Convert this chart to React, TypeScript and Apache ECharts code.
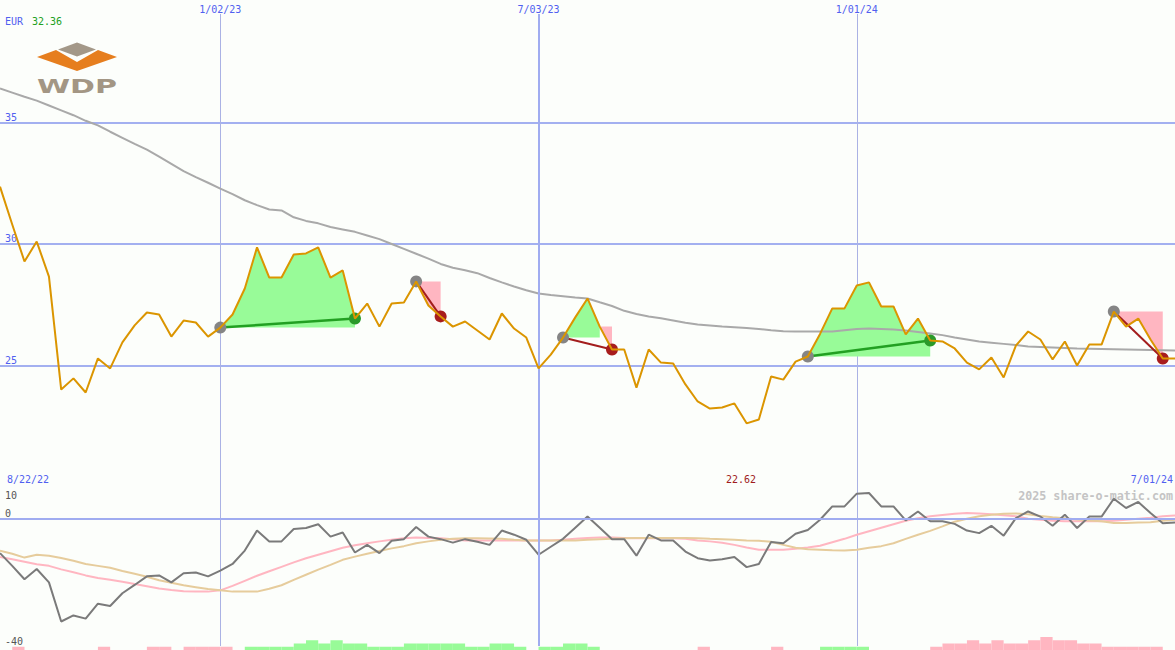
import React, { useEffect, useRef } from "react";
import * as echarts from "echarts";

// Weekly closing price (EUR), first week 8/29/22
const price = [
  32.36, 30.8, 29.28, 30.1, 28.66, 24.01, 24.47, 23.89, 25.29, 24.88,
  25.95, 26.65, 27.18, 27.1, 26.19, 26.85, 26.77, 26.19, 26.56, 27.1,
  28.17, 29.86, 28.62, 28.62, 29.57, 29.61, 29.86, 28.62, 28.91, 26.93,
  27.55, 26.6, 27.55, 27.59, 28.46, 27.47, 27.02, 26.6, 26.81, 26.44,
  26.07, 27.14, 26.52, 26.15, 24.88, 25.45, 26.15, 26.98, 27.76, 26.6,
  25.66, 25.66, 24.09, 25.66, 25.12, 25.08, 24.22, 23.52, 23.23, 23.27,
  23.44, 22.62, 22.78, 24.55, 24.42, 25.16, 25.37, 26.3, 27.35, 27.35,
  28.29, 28.42, 27.43, 27.43, 26.28, 26.93, 26.03, 25.99, 25.7, 25.12,
  24.84, 25.33, 24.51, 25.82, 26.4, 26.07, 25.25, 25.99, 25.0, 25.86,
  25.86, 27.22, 26.6, 26.93, 26.07, 25.29, 25.29,
];

// Moving average (grey)
const movingAvg = [
  36.4, 36.23, 36.06, 35.9, 35.7, 35.5, 35.3, 35.07, 34.88, 34.62,
  34.37, 34.12, 33.88, 33.6, 33.3, 33.0, 32.75, 32.52, 32.28, 32.05,
  31.8, 31.6, 31.42, 31.38, 31.1, 30.95, 30.85, 30.7, 30.6, 30.5,
  30.35, 30.2, 30.0, 29.8, 29.6, 29.4, 29.18, 29.02, 28.92, 28.8,
  28.6, 28.42, 28.25, 28.1, 27.96, 27.9, 27.85, 27.8, 27.76, 27.6,
  27.45, 27.25, 27.12, 27.02, 26.94, 26.85, 26.76, 26.69, 26.65, 26.6,
  26.57, 26.54, 26.5, 26.45, 26.41, 26.4, 26.4, 26.4, 26.4, 26.45,
  26.5, 26.52, 26.5, 26.48, 26.44, 26.38, 26.32, 26.25, 26.15, 26.07,
  25.99, 25.94, 25.89, 25.84, 25.78, 25.76, 25.74, 25.72, 25.7, 25.69,
  25.68, 25.67, 25.66, 25.65, 25.64, 25.63, 25.62,
];

// Trades: entry / exit week indexes
const tradeEntry = [18, 34, 46, 66, 91];
const tradeExit = [29, 36, 50, 76, 95];

// Lower panel oscillator (dark grey), signal (pink), slow line (tan)
const momentum = [
  -10.8, -14.8, -19.0, -15.8, -20.0, -32.3, -30.4, -31.4, -26.7, -27.4,
  -23.4, -20.8, -18.1, -17.8, -20.0, -17.1, -16.9, -18.1, -16.3, -14.2,
  -10.0, -3.7, -7.1, -7.1, -3.2, -2.9, -1.7, -5.6, -4.3, -10.6,
  -8.2, -10.8, -6.9, -6.4, -2.6, -5.6, -6.4, -7.5, -6.4, -7.2,
  -8.2, -3.7, -5.0, -6.6, -11.3, -8.8, -6.3, -2.8, 0.7, -2.8,
  -6.4, -6.4, -11.6, -5.0, -6.8, -6.8, -10.3, -12.4, -13.1, -12.7,
  -12.0, -15.2, -14.2, -7.3, -7.7, -4.7, -3.5, -0.3, 3.9, 3.9,
  7.9, 8.1, 3.9, 3.9, -0.5, 2.3, -0.8, -0.8, -1.6, -3.7,
  -4.5, -2.2, -5.3, 0.2, 2.3, 0.7, -2.2, 1.3, -2.9, 0.7,
  0.7, 6.3, 3.4, 5.3, 1.8, -1.4, -1.2,
];
const signal = [
  -12.0, -12.7, -13.5, -14.3, -14.8, -15.9, -16.8, -17.8, -18.6, -19.2,
  -19.8, -20.5, -21.2, -21.9, -22.4, -22.8, -22.9, -22.9, -22.5, -21.1,
  -19.5, -17.9, -16.5, -15.1, -13.7, -12.4, -11.3, -10.2, -9.1, -8.3,
  -7.7, -7.1, -6.6, -6.1, -5.9, -6.0, -6.1, -6.4, -6.8, -6.8,
  -6.8, -6.8, -6.8, -6.8, -6.8, -6.8, -6.6, -6.3, -6.0, -5.9,
  -5.9, -6.0, -6.1, -6.1, -6.1, -6.1, -6.3, -6.8, -7.1, -7.5,
  -8.2, -9.0, -9.7, -9.7, -9.7, -9.4, -9.0, -8.5, -7.4, -6.3,
  -5.0, -3.9, -2.8, -1.7, -0.6, 0.2, 0.8, 1.2, 1.6, 1.8,
  1.7, 1.4, 1.1, 0.8, 0.0, -0.3, -0.6, -0.8, -0.8, -0.8,
  -0.8, -0.6, -0.3, 0.0, 0.3, 0.8, 1.0,
];
const slowLine = [
  -10.0, -11.0, -12.2, -11.3, -11.6, -12.3, -13.2, -14.2, -14.8, -15.4,
  -16.4, -17.3, -18.2, -19.3, -20.1, -20.9, -21.5, -22.1, -22.5, -22.9,
  -22.9, -22.9, -22.0, -20.9, -19.2, -17.6, -16.0, -14.5, -12.9, -11.9,
  -11.0, -10.1, -9.3, -8.6, -7.7, -7.1, -6.6, -6.3, -6.1, -6.1,
  -6.2, -6.3, -6.6, -6.8, -6.8, -6.8, -6.8, -6.8, -6.6, -6.4,
  -6.3, -6.1, -6.0, -6.0, -6.0, -6.0, -6.0, -6.1, -6.3, -6.4,
  -6.6, -6.8, -6.9, -7.2, -8.2, -9.1, -9.6, -9.7, -9.9, -10.0,
  -9.7, -9.1, -8.6, -7.7, -6.3, -5.0, -3.8, -2.4, -0.9, 0.0,
  0.8, 1.3, 1.6, 1.7, 1.4, 0.9, 0.5, 0.2, -0.2, -0.5,
  -0.8, -1.3, -1.3, -1.2, -1.1, -0.6, -0.3,
];

// Bottom histogram (positive = green, negative = pink), one bar per week interval
const histogram = [
  0, -1, 0, 0, 0, 0, 0, 0, -1, 0,
  0, 0, -1, -1, 0, -1, -1, -1, -1, 0,
  1, 1, 1, 1, 2, 3, 2, 3, 2, 2,
  1, 1, 1, 2, 2, 2, 2, 2, 1, 1,
  2, 2, 1, 0, 1, 1, 2, 2, 1, 0,
  0, 0, 0, 0, 0, 0, 0, -1, 0, 0,
  0, 0, 0, -1, 0, 0, 0, 1, 1, 1,
  1, 0, 0, 0, 0, 0, -1, -2, -2, -3,
  -2, -3, -2, -2, -3, -4, -3, -3, -2, -2,
  -1, -1, -1, -1, -1, 0,
];

const markedDates = ["1/02/23", "7/03/23", "1/01/24"];
const midYearDate = "7/03/23";
const currency = "EUR";
const startLabel = "8/22/22";
const endLabel = "7/01/24";
const watermark = "2025 share-o-matic.com";

const mono = '"DejaVu Sans Mono", monospace';
const BLUE_TXT = "#5060f0";
const GRID_BLUE = "#a3b0f0";
const THIN_V = "#aab2e4";
const SEP = "#7b8be8";
const GREEN_FILL = "#98fb98";
const PINK_FILL = "#ffb6c1";

const start = Date.UTC(2022, 7, 29);
const dates = price.map((_, i) => {
  const d = new Date(start + i * 7 * 86400000);
  return `${d.getUTCMonth() + 1}/${String(d.getUTCDate()).padStart(2, "0")}/${String(
    d.getUTCFullYear() % 100
  ).padStart(2, "0")}`;
});
const histCats = histogram.map((_, i) => String(i));

const isMarked = (_idx: number, val: string) => markedDates.includes(val);

function tradeInfo(k: number) {
  const e = tradeEntry[k];
  const x = tradeExit[k];
  const base = price[e];
  const win = price[x] >= base;
  let gEnd = x;
  if (!win) {
    gEnd = e;
    for (let i = e; i <= x; i++) if (price[i] >= base) gEnd = i;
  }
  return { e, x, base, win, gEnd };
}

export default function App() {
  const ref = useRef<HTMLDivElement>(null);

  useEffect(() => {
    if (!ref.current) return;
    const chart = echarts.init(ref.current, null, { renderer: "svg" });
    const maxP = Math.max(...price).toFixed(2);
    const minP = Math.min(...price).toFixed(2);

    const option: any = {
      animation: false,
      backgroundColor: "#fcfefb",
      grid: [
        { left: 0, right: 0, top: 14, height: 473 },
        { left: 0, right: 0, top: 487, height: 159 },
        { left: 0, right: 0, top: 637, height: 13 },
      ],
      xAxis: [
        {
          type: "category",
          gridIndex: 0,
          data: dates,
          boundaryGap: false,
          position: "top",
          axisLine: { show: false },
          axisTick: { show: false },
          axisLabel: {
            interval: isMarked,
            color: BLUE_TXT,
            fontFamily: mono,
            fontSize: 10,
            margin: 0,
          },
          splitLine: {
            show: true,
            interval: isMarked,
            lineStyle: { color: THIN_V, width: 1 },
          },
        },
        {
          type: "category",
          gridIndex: 1,
          data: dates,
          boundaryGap: false,
          position: "top",
          axisLine: { show: true, lineStyle: { color: SEP, width: 2 } },
          axisTick: { show: false },
          axisLabel: { show: false },
          splitLine: {
            show: true,
            interval: isMarked,
            lineStyle: { color: THIN_V, width: 1 },
          },
        },
        {
          type: "category",
          gridIndex: 2,
          data: histCats,
          boundaryGap: true,
          show: false,
        },
      ],
      yAxis: [
        {
          type: "value",
          gridIndex: 0,
          min: 20,
          max: 39.465,
          interval: 5,
          axisLine: { show: false },
          axisTick: { show: false },
          axisLabel: {
            inside: true,
            showMinLabel: false,
            showMaxLabel: false,
            verticalAlign: "bottom",
            color: BLUE_TXT,
            fontFamily: mono,
            fontSize: 10,
            margin: 5,
          },
          splitLine: {
            show: true,
            showMinLine: false,
            showMaxLine: false,
            lineStyle: { color: GRID_BLUE, width: 2 },
          },
        },
        {
          type: "value",
          gridIndex: 1,
          position: "left",
          min: -40,
          max: 10,
          interval: 10,
          axisLine: { show: false },
          axisTick: { show: false },
          splitLine: { show: false },
          axisLabel: {
            inside: true,
            showMinLabel: true,
            formatter: (v: number) => (v === 0 || v === -40 ? String(v) : ""),
            verticalAlign: "bottom",
            color: "#555555",
            fontFamily: mono,
            fontSize: 10,
            margin: 5,
          },
        },
        {
          type: "value",
          gridIndex: 1,
          position: "left",
          min: -40,
          max: 10,
          interval: 10,
          axisLine: { show: false },
          axisTick: { show: false },
          splitLine: { show: false },
          axisLabel: {
            inside: true,
            showMaxLabel: true,
            formatter: (v: number) => (v === 10 ? String(v) : ""),
            verticalAlign: "top",
            padding: [3, 0, 0, 0],
            color: "#555555",
            fontFamily: mono,
            fontSize: 10,
            margin: 5,
          },
        },
        {
          type: "value",
          gridIndex: 2,
          min: 0,
          max: 4,
          show: false,
        },
      ],
      graphic: [
        {
          type: "text",
          x: 5,
          y: 21,
          style: { text: currency, fill: BLUE_TXT, font: `10px ${mono}`, verticalAlign: "middle" },
        },
        {
          type: "text",
          x: 32,
          y: 21,
          style: { text: maxP, fill: "#22a022", font: `10px ${mono}`, verticalAlign: "middle" },
        },
        {
          type: "polygon",
          shape: { points: [[37, 57], [56, 50], [77, 62], [98, 50], [117, 57], [77, 71]] },
          style: { fill: "#e67e1e" },
        },
        {
          type: "polygon",
          shape: { points: [[58, 49.5], [77, 42.5], [96, 49.5], [77, 56.5]] },
          style: { fill: "#a39888" },
        },
        {
          type: "text",
          x: 77,
          y: 86,
          scaleX: 1.5,
          style: {
            text: "WDP",
            fill: "#a39684",
            font: 'bold 20px "DejaVu Sans", sans-serif',
            align: "center",
            verticalAlign: "middle",
          },
        },
        {
          type: "text",
          x: 7,
          y: 479,
          style: { text: startLabel, fill: BLUE_TXT, font: `10px ${mono}`, verticalAlign: "middle" },
        },
        {
          type: "text",
          x: 741,
          y: 479,
          style: {
            text: minP,
            fill: "#a01c1c",
            font: `10px ${mono}`,
            align: "center",
            verticalAlign: "middle",
          },
        },
        {
          type: "text",
          x: 1173,
          y: 479,
          style: {
            text: endLabel,
            fill: BLUE_TXT,
            font: `10px ${mono}`,
            align: "right",
            verticalAlign: "middle",
          },
        },
        {
          type: "text",
          x: 1173,
          y: 496,
          z: 0,
          style: {
            text: watermark,
            fill: "#c4c4c4",
            font: `bold 11.7px ${mono}`,
            align: "right",
            verticalAlign: "middle",
          },
        },
      ],
      series: [
        {
          type: "custom",
          name: "fills",
          xAxisIndex: 0,
          yAxisIndex: 0,
          z: 1,
          silent: true,
          data: tradeEntry.map((e) => [e, price[e]]),
          renderItem: (params: any, api: any) => {
            const { e, x, base, win, gEnd } = tradeInfo(params.dataIndex);
            const children: any[] = [];
            if (gEnd > e) {
              const pts: number[][] = [];
              for (let i = e; i <= gEnd; i++) pts.push(api.coord([i, price[i]]));
              pts.push(api.coord([gEnd, base]));
              pts.push(api.coord([e, base]));
              children.push({ type: "polygon", shape: { points: pts }, style: { fill: GREEN_FILL } });
            }
            if (!win) {
              const top = price[gEnd];
              const pts: number[][] = [api.coord([gEnd, top]), api.coord([x, top])];
              for (let i = x; i >= gEnd; i--) pts.push(api.coord([i, price[i]]));
              children.push({ type: "polygon", shape: { points: pts }, style: { fill: PINK_FILL } });
            }
            return { type: "group", children };
          },
        },
        {
          type: "line",
          name: "MA",
          xAxisIndex: 0,
          yAxisIndex: 0,
          z: 3,
          data: movingAvg,
          symbol: "none",
          lineStyle: { color: "#a9a9a9", width: 2 },
          markLine: {
            silent: true,
            symbol: ["none", "none"],
            label: { show: false },
            lineStyle: { color: "#a0acf0", width: 2, type: "solid" },
            data: [{ xAxis: midYearDate }],
          },
        },
        {
          type: "custom",
          name: "trades",
          xAxisIndex: 0,
          yAxisIndex: 0,
          z: 5,
          silent: true,
          data: tradeEntry.map((e) => [e, price[e]]),
          renderItem: (params: any, api: any) => {
            const { e, x, win } = tradeInfo(params.dataIndex);
            const p1 = api.coord([e, price[e]]);
            const p2 = api.coord([x, price[x]]);
            return {
              type: "group",
              children: [
                {
                  type: "line",
                  shape: { x1: p1[0], y1: p1[1], x2: p2[0], y2: p2[1] },
                  style: { stroke: win ? "#22a022" : "#a31d1d", lineWidth: win ? 2.5 : 2 },
                },
                { type: "circle", shape: { cx: p1[0], cy: p1[1], r: 6 }, style: { fill: "#858585" } },
                {
                  type: "circle",
                  shape: { cx: p2[0], cy: p2[1], r: 6 },
                  style: { fill: win ? "#2a9a2a" : "#a81d1d" },
                },
              ],
            };
          },
        },
        {
          type: "line",
          name: "price",
          xAxisIndex: 0,
          yAxisIndex: 0,
          z: 10,
          data: price,
          symbol: "none",
          lineStyle: { color: "#db9500", width: 2 },
        },
        {
          type: "line",
          name: "signal",
          xAxisIndex: 1,
          yAxisIndex: 1,
          z: 2,
          data: signal,
          symbol: "none",
          lineStyle: { color: "#ffb6c1", width: 2 },
        },
        {
          type: "line",
          name: "slow",
          xAxisIndex: 1,
          yAxisIndex: 1,
          z: 3,
          data: slowLine,
          symbol: "none",
          lineStyle: { color: "#e6cc9c", width: 2 },
        },
        {
          type: "line",
          name: "momentum",
          xAxisIndex: 1,
          yAxisIndex: 1,
          z: 4,
          data: momentum,
          symbol: "none",
          lineStyle: { color: "#7a7a7a", width: 2 },
          markLine: {
            silent: true,
            symbol: ["none", "none"],
            label: { show: false },
            lineStyle: { color: "#a0acf0", width: 2, type: "solid" },
            data: [{ xAxis: midYearDate }, { yAxis: 0 }],
          },
        },
        {
          type: "bar",
          name: "histUp",
          xAxisIndex: 2,
          yAxisIndex: 3,
          data: histogram.map((v) => (v > 0 ? v : 0)),
          barWidth: "100%",
          barGap: "-100%",
          itemStyle: { color: GREEN_FILL },
          silent: true,
        },
        {
          type: "bar",
          name: "histDown",
          xAxisIndex: 2,
          yAxisIndex: 3,
          data: histogram.map((v) => (v < 0 ? -v : 0)),
          barWidth: "100%",
          barGap: "-100%",
          itemStyle: { color: PINK_FILL },
          silent: true,
        },
      ],
    };

    chart.setOption(option);
    return () => chart.dispose();
  }, []);

  return (
    <div
      ref={ref}
      style={{ position: "absolute", left: 0, top: 0, width: 1175, height: 650 }}
    />
  );
}
